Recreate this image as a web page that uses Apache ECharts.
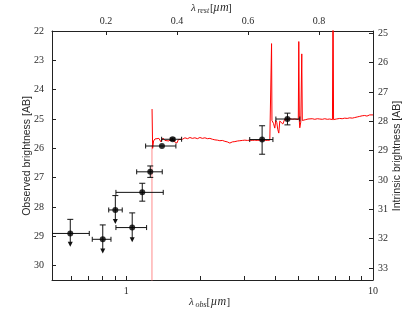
<!DOCTYPE html>
<html><head><meta charset="utf-8">
<script src="https://cdn.jsdelivr.net/npm/echarts@6/dist/echarts.min.js"></script>
<style>html,body{margin:0;padding:0;background:#fff}#c{width:415px;height:312px}</style>
</head><body><div id="c"></div>
<script>
// Photometric points (observed wavelength in micron, AB magnitude)
const ptLam   = [0.593, 0.803, 0.903, 1.057, 1.161, 1.251, 1.395, 1.541, 3.553, 4.50];
const ptLamLo = [0.500, 0.728, 0.849, 0.908, 0.908, 1.102, 1.198, 1.391, 3.165, 4.04];
const ptLamHi = [0.708, 0.867, 0.963, 1.209, 1.412, 1.399, 1.589, 1.676, 3.930, 5.05];
const ptMag   = [28.9, 29.1, 28.1, 28.7, 27.5, 26.8, 25.92, 25.69, 25.7, 25.0];
const ptMagLo = [28.42, 28.61, 27.61, 28.2, 27.19, 26.6, 25.89, 25.65, 25.23, 24.8];
const ptMagHi = [29.35, 29.58, 28.58, 29.2, 27.8, 26.99, 25.95, 25.73, 26.2, 25.2];
const ptUpperLimit = [1, 1, 1, 1, 0, 0, 0, 0, 0, 0];

// Model spectrum: faint part below the break, then the continuum
const breakLam = [1.271, 1.271];
const breakMag = [45, 25.9];
const specLam = [1.272, 1.279, 1.290, 1.307, 1.331, 1.356, 1.382, 1.408, 1.434, 1.461, 1.489, 1.517, 1.546, 1.575, 1.604, 1.627, 1.650, 1.689, 1.729, 1.770, 1.811, 1.853, 1.897, 1.942, 1.988, 2.035, 2.083, 2.132, 2.182, 2.234, 2.286, 2.340, 2.395, 2.451, 2.509, 2.568, 2.629, 2.691, 2.755, 2.820, 2.886, 2.954, 3.024, 3.095, 3.168, 3.243, 3.319, 3.398, 3.478, 3.560, 3.643, 3.730, 3.818, 3.865, 3.880, 3.895, 3.950, 3.999, 4.035, 4.075, 4.110, 4.151, 4.190, 4.230, 4.310, 4.391, 4.500, 4.601, 4.710, 4.820, 4.910, 4.980, 5.003, 5.030, 5.050, 5.097, 5.144, 5.170, 5.241, 5.340, 5.450, 5.543, 5.670, 5.808, 5.950, 6.085, 6.230, 6.376, 6.530, 6.679, 6.850, 6.887, 6.920, 7.100, 7.332, 7.500, 7.681, 7.860, 8.049, 8.240, 8.432, 8.630, 8.835, 9.040, 9.256, 9.450, 9.697, 9.850, 10.0];
const specMag = [24.66, 26.0, 25.75, 25.68, 25.72, 25.66, 25.78, 25.65, 25.73, 25.68, 25.75, 25.67, 25.74, 25.70, 25.82, 25.70, 25.66, 25.69, 25.64, 25.67, 25.63, 25.66, 25.64, 25.67, 25.63, 25.66, 25.64, 25.67, 25.66, 25.69, 25.71, 25.72, 25.74, 25.73, 25.76, 25.78, 25.82, 25.78, 25.77, 25.75, 25.74, 25.73, 25.72, 25.73, 25.72, 25.73, 25.72, 25.73, 25.72, 25.73, 25.72, 25.73, 25.72, 25.73, 22.43, 25.05, 25.15, 25.31, 25.05, 25.12, 25.35, 25.48, 25.07, 25.05, 25.17, 25.0, 25.02, 24.99, 25.01, 25.0, 24.99, 25.02, 22.36, 25.1, 25.3, 25.1, 22.78, 25.05, 25.0, 25.02, 25.0, 25.01, 24.99, 25.01, 24.99, 25.0, 25.01, 24.99, 25.01, 25.0, 25.02, 20, 25.02, 25.0, 24.98, 24.99, 24.97, 24.98, 24.96, 24.97, 24.95, 24.93, 24.91, 24.89, 24.88, 24.90, 24.86, 24.88, 24.86];

// Axis tick values
const bottomMinorTicks = [0.6, 0.7, 0.8, 0.9, 1, 2, 3, 4, 5, 6, 7, 8, 9, 10];
const bottomLabels = [1, 10];
const topTicks = [0.2, 0.4, 0.6, 0.8];
const leftTicks = [22, 23, 24, 25, 26, 27, 28, 29, 30];
const rightTicks = [25, 26, 27, 28, 29, 30, 31, 32, 33];

const serif = '"Liberation Serif", serif';
const sans = '"Liberation Sans", sans-serif';
const txt = '#2a2a2a';
const labelStyle = {fontFamily: serif, fontSize: 10, color: txt};
const lineStyle = {color: '#222', width: 1};

const errData = ptLam.map((v, i) => [v, ptMag[i], ptLamLo[i], ptLamHi[i], ptMagLo[i], ptMagHi[i], ptUpperLimit[i]]);
const specData = specLam.map((v, i) => [v, specMag[i]]);
const breakData = breakLam.map((v, i) => [v, breakMag[i]]);

function renderErr(params, api) {
  const x = api.value(0), y = api.value(1);
  const c = api.coord([x, y]);
  const pl = api.coord([api.value(2), y]), ph = api.coord([api.value(3), y]);
  const a = api.coord([x, api.value(4)]), b = api.coord([x, api.value(5)]);
  const lim = api.value(6);
  const st = {stroke: '#111', lineWidth: 1};
  const ch = [];
  ch.push({type: 'line', shape: {x1: pl[0], y1: c[1], x2: ph[0], y2: c[1]}, style: st});
  ch.push({type: 'line', shape: {x1: pl[0], y1: c[1] - 2.5, x2: pl[0], y2: c[1] + 2.5}, style: st});
  ch.push({type: 'line', shape: {x1: ph[0], y1: c[1] - 2.5, x2: ph[0], y2: c[1] + 2.5}, style: st});
  if (lim) {
    ch.push({type: 'line', shape: {x1: c[0], y1: a[1], x2: c[0], y2: b[1] - 4}, style: st});
    ch.push({type: 'line', shape: {x1: c[0] - 3, y1: a[1], x2: c[0] + 3, y2: a[1]}, style: st});
    ch.push({type: 'polygon', shape: {points: [[c[0] - 2.5, b[1] - 5], [c[0] + 2.5, b[1] - 5], [c[0], b[1]]]}, style: {fill: '#111'}});
  } else if (b[1] - a[1] > 2) {
    ch.push({type: 'line', shape: {x1: c[0], y1: a[1], x2: c[0], y2: b[1]}, style: st});
    ch.push({type: 'line', shape: {x1: c[0] - 3, y1: a[1], x2: c[0] + 3, y2: a[1]}, style: st});
    ch.push({type: 'line', shape: {x1: c[0] - 3, y1: b[1], x2: c[0] + 3, y2: b[1]}, style: st});
  }
  return {type: 'group', children: ch};
}

function t(text, x, y, font) {
  return {type: 'text', x: x, y: y, style: {text: text, font: font, fill: txt, textAlign: 'left', textVerticalAlign: 'middle'}};
}

const chart = echarts.init(document.getElementById('c'), null, {renderer: 'canvas'});
chart.setOption({
  animation: false,
  backgroundColor: '#fff',
  grid: {left: 52, right: 42, top: 31, bottom: 32},
  xAxis: [
    {type: 'log', logBase: 10, min: 0.5, max: 10, position: 'bottom',
     axisLine: {onZero: false, lineStyle: lineStyle},
     axisTick: {inside: true, length: 4, lineStyle: lineStyle, customValues: bottomMinorTicks},
     axisLabel: Object.assign({margin: 6, customValues: bottomLabels, formatter: v => String(Math.round(v))}, labelStyle),
     splitLine: {show: false}},
    {type: 'value', min: 0.048, max: 0.952, position: 'top',
     axisLine: {onZero: false, lineStyle: lineStyle},
     axisTick: {inside: true, length: 4, lineStyle: lineStyle, customValues: topTicks},
     axisLabel: Object.assign({margin: 5, customValues: topTicks, formatter: v => v.toFixed(1)}, labelStyle),
     splitLine: {show: false}}
  ],
  yAxis: [
    {type: 'value', inverse: true, min: 22, max: 30.487, position: 'left',
     axisLine: {show: true, onZero: false, lineStyle: lineStyle},
     axisTick: {show: true, inside: true, length: 4, lineStyle: lineStyle, customValues: leftTicks},
     axisLabel: Object.assign({margin: 8, customValues: leftTicks}, labelStyle),
     splitLine: {show: false}},
    {type: 'value', inverse: true, min: 24.92, max: 33.41, position: 'right',
     axisLine: {show: true, onZero: false, lineStyle: lineStyle},
     axisTick: {show: true, inside: true, length: 4, lineStyle: lineStyle, customValues: rightTicks},
     axisLabel: Object.assign({margin: 5, customValues: rightTicks}, labelStyle),
     splitLine: {show: false}}
  ],
  graphic: [
    {type: 'text', x: 27, y: 156, rotation: Math.PI / 2, style: {text: 'Observed brightness [AB]', font: '10.5px ' + sans, fill: txt, textAlign: 'center', textVerticalAlign: 'middle'}},
    {type: 'text', x: 397, y: 156, rotation: Math.PI / 2, style: {text: 'Intrinsic brightness [AB]', font: '10.5px ' + sans, fill: txt, textAlign: 'center', textVerticalAlign: 'middle'}},
    t('λ', 191, 8, 'italic 11px ' + serif),
    t('rest', 197.5, 11, 'italic 8px ' + serif),
    t('[', 210, 8, '11px ' + serif),
    t('µm', 213, 8, 'italic 12px ' + serif),
    t(']', 228, 8, '11px ' + serif),
    t('λ', 189, 302, 'italic 11px ' + serif),
    t('obs', 195.5, 305, 'italic 8px ' + serif),
    t('[', 206.5, 302, '11px ' + serif),
    t('µm', 210.5, 302, 'italic 12px ' + serif),
    t(']', 226.5, 302, '11px ' + serif)
  ],
  series: [
    {type: 'line', xAxisIndex: 0, yAxisIndex: 0, data: breakData, showSymbol: false, symbol: 'none', clip: true,
     lineStyle: {color: '#ff8c8c', width: 1}, z: 1},
    {type: 'line', xAxisIndex: 0, yAxisIndex: 0, data: specData, showSymbol: false, symbol: 'none', clip: true,
     lineStyle: {color: '#ff0000', width: 1}, z: 2},
    {type: 'custom', xAxisIndex: 0, yAxisIndex: 0, data: errData, renderItem: renderErr, clip: true, z: 3},
    {type: 'scatter', xAxisIndex: 0, yAxisIndex: 0, data: ptLam.map((v, i) => [v, ptMag[i]]), symbol: 'circle', symbolSize: 6,
     itemStyle: {color: '#000'}, z: 4}
  ]
});
</script></body></html>
